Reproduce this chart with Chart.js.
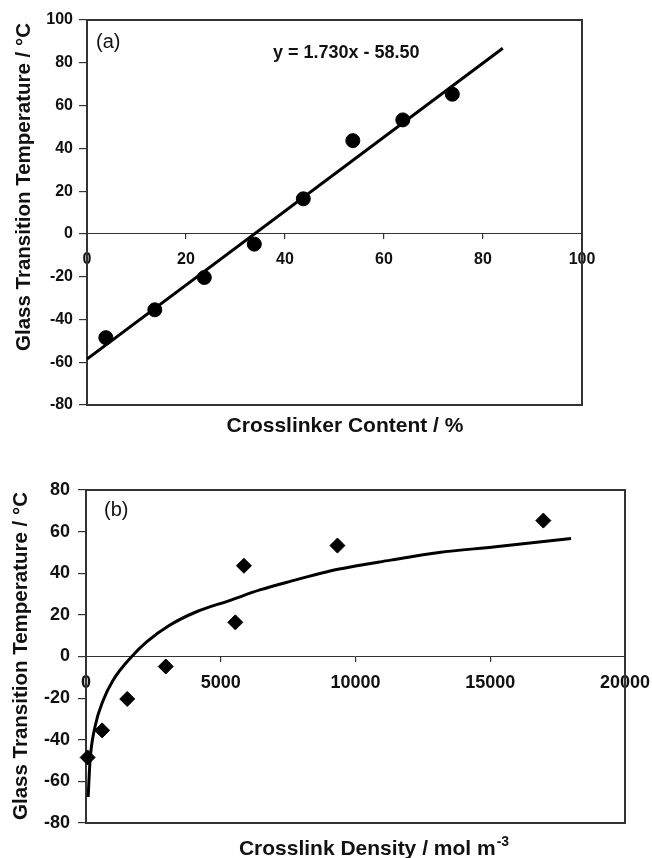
<!DOCTYPE html>
<html>
<head>
<meta charset="utf-8">
<script src="https://cdn.jsdelivr.net/npm/chart.js@4"></script>
<style>
  body { margin: 0; background: #fff; }
  canvas { position: absolute; left: 0; }
  #tg-content { top: 0; }
  #tg-density { top: 440px; }
</style>
</head>
<body>
<canvas id="tg-content" width="652" height="440"></canvas>
<canvas id="tg-density" width="652" height="418"></canvas>
<script>
// Measured glass transition temperature (°C) for each crosslinker loading (%)
const crosslinkerContent = [3.8, 13.7, 23.7, 33.8, 43.7, 53.7, 63.8, 73.8];
const glassTransition = [-48.5, -35.5, -20.4, -4.8, 16.4, 43.6, 53.3, 65.3];

// Linear fit reported on panel (a)
const fitSlope = 1.730;
const fitIntercept = -58.50;
const fitRange = [0, 84];

// Same samples plotted against crosslink density (mol m-3)
const crosslinkDensity = [60, 600, 1530, 2960, 5540, 5860, 9330, 16970];

// Logarithmic trend curve on panel (b), read along its length
const trendDensity = [80, 150, 330, 640, 1000, 1700, 2250, 3100, 4100, 5350, 6450, 7550, 9400, 11300, 13100, 15200, 18000];
const trendTg = [-67.5, -50, -34, -21, -11.5, 0, 7, 15, 21.5, 27, 32, 36, 42, 46.3, 50, 52.7, 56.7];

// Axis ticks
const contentTicks = [0, 20, 40, 60, 80, 100];
const tgTicksA = [-80, -60, -40, -20, 0, 20, 40, 60, 80, 100];
const densityTicks = [0, 5000, 10000, 15000, 20000];
const tgTicksB = [-80, -60, -40, -20, 0, 20, 40, 60, 80];

const FONT = '"Liberation Sans", Arial, Helvetica, sans-serif';
const INK = '#111';

// frame around the plot area plus the free text (panel tag, equation, axis titles)
const panelDecor = {
  id: 'panelDecor',
  beforeDatasetsDraw(chart) {
    const { ctx, chartArea: a } = chart;
    ctx.save();
    ctx.strokeStyle = '#333';
    ctx.lineWidth = 2;
    ctx.strokeRect(a.left, a.top, a.right - a.left, a.bottom - a.top);
    ctx.restore();
  },
  afterDraw(chart, args, o) {
    const { ctx } = chart;
    ctx.save();
    ctx.fillStyle = INK;
    ctx.textBaseline = 'middle';
    ctx.textAlign = 'left';
    ctx.font = '20px ' + FONT;
    ctx.fillText(o.tag, o.tagX, o.tagY);

    if (o.equation) {
      ctx.font = 'bold 18px ' + FONT;
      ctx.fillText(o.equation, o.eqX, o.eqY);
    }

    // x title, with optional superscript
    ctx.textBaseline = 'alphabetic';
    ctx.font = 'bold 21px ' + FONT;
    const mainW = ctx.measureText(o.xTitle).width;
    let supW = 0;
    if (o.xSup) {
      ctx.font = 'bold 14px ' + FONT;
      supW = ctx.measureText(o.xSup).width + 1;
    }
    const x0 = o.xTitleX - (mainW + supW) / 2;
    ctx.font = 'bold 21px ' + FONT;
    ctx.fillText(o.xTitle, x0, o.xTitleY);
    if (o.xSup) {
      ctx.font = 'bold 14px ' + FONT;
      ctx.fillText(o.xSup, x0 + mainW + 1, o.xTitleY - 9);
    }

    // y title
    ctx.translate(o.yTitleX, o.yTitleY);
    ctx.rotate(-Math.PI / 2);
    ctx.textAlign = 'center';
    ctx.font = 'bold 20.5px ' + FONT;
    ctx.fillText(o.yTitle, 0, 0);
    ctx.restore();
  }
};

function makeScales(xTicks, yTicks, fontSize, xPad, yPad, yWidth) {
  const tickFont = { family: FONT, size: fontSize, weight: 'bold' };
  return {
    x: {
      type: 'linear',
      position: { y: 0 },
      min: xTicks[0],
      max: xTicks[xTicks.length - 1],
      afterBuildTicks: s => { s.ticks = xTicks.map(v => ({ value: v })); },
      // end labels may hang past the frame
      afterFit: s => { s.paddingLeft = 0; s.paddingRight = 0; },
      ticks: { font: tickFont, color: INK, padding: xPad, maxRotation: 0, callback: v => String(v) },
      grid: { drawOnChartArea: false, tickLength: 5, color: '#333', lineWidth: 1.2 },
      border: { color: '#333', width: 1 }
    },
    y: {
      type: 'linear',
      min: yTicks[0],
      max: yTicks[yTicks.length - 1],
      afterBuildTicks: s => { s.ticks = yTicks.map(v => ({ value: v })); },
      afterFit: s => { s.width = yWidth; },
      ticks: { font: tickFont, color: INK, padding: yPad, callback: v => String(v) },
      grid: { drawOnChartArea: false, tickLength: 8, color: '#333', lineWidth: 1.2 },
      border: { color: '#222', width: 2 }
    }
  };
}

const common = {
  responsive: false,
  animation: false,
  devicePixelRatio: 1
};

// (a) Tg vs crosslinker content
new Chart(document.getElementById('tg-content'), {
  type: 'scatter',
  data: {
    datasets: [
      {
        label: 'fit',
        data: fitRange.map(x => ({ x: x, y: fitSlope * x + fitIntercept })),
        showLine: true,
        pointRadius: 0,
        borderColor: '#000',
        borderWidth: 3
      },
      {
        label: 'Tg',
        data: crosslinkerContent.map((x, i) => ({ x: x, y: glassTransition[i] })),
        pointStyle: 'circle',
        pointRadius: 7,
        backgroundColor: '#000',
        borderColor: '#000',
        borderWidth: 1,
        clip: false
      }
    ]
  },
  options: Object.assign({}, common, {
    layout: { padding: { left: 0, top: 20, right: 70, bottom: 35 } },
    scales: makeScales(contentTicks, tgTicksA, 16, 11, 6, 87),
    plugins: {
      legend: { display: false },
      tooltip: { enabled: false },
      panelDecor: {
        tag: '(a)', tagX: 96, tagY: 42,
        equation: 'y = ' + fitSlope.toFixed(3) + 'x - ' + Math.abs(fitIntercept).toFixed(2),
        eqX: 273, eqY: 53,
        xTitle: 'Crosslinker Content / %', xTitleX: 345, xTitleY: 432,
        yTitle: 'Glass Transition Temperature / °C', yTitleX: 30, yTitleY: 187
      }
    }
  }),
  plugins: [panelDecor]
});

// (b) Tg vs crosslink density
new Chart(document.getElementById('tg-density'), {
  type: 'scatter',
  data: {
    datasets: [
      {
        label: 'trend',
        data: trendDensity.map((x, i) => ({ x: x, y: trendTg[i] })),
        showLine: true,
        cubicInterpolationMode: 'monotone',
        pointRadius: 0,
        borderColor: '#000',
        borderWidth: 3
      },
      {
        label: 'Tg',
        data: crosslinkDensity.map((x, i) => ({ x: x, y: glassTransition[i] })),
        pointStyle: 'rectRot',
        pointRadius: 7.5,
        backgroundColor: '#000',
        borderColor: '#000',
        borderWidth: 1,
        clip: false
      }
    ]
  },
  options: Object.assign({}, common, {
    layout: { padding: { left: 0, top: 50, right: 27, bottom: 35 } },
    scales: makeScales(densityTicks, tgTicksB, 18, 11, 8, 86),
    plugins: {
      legend: { display: false },
      tooltip: { enabled: false },
      panelDecor: {
        tag: '(b)', tagX: 104, tagY: 70,
        xTitle: 'Crosslink Density / mol m', xSup: '-3', xTitleX: 374, xTitleY: 415,
        yTitle: 'Glass Transition Temperature / °C', yTitleX: 27, yTitleY: 216
      }
    }
  }),
  plugins: [panelDecor]
});
</script>
</body>
</html>
